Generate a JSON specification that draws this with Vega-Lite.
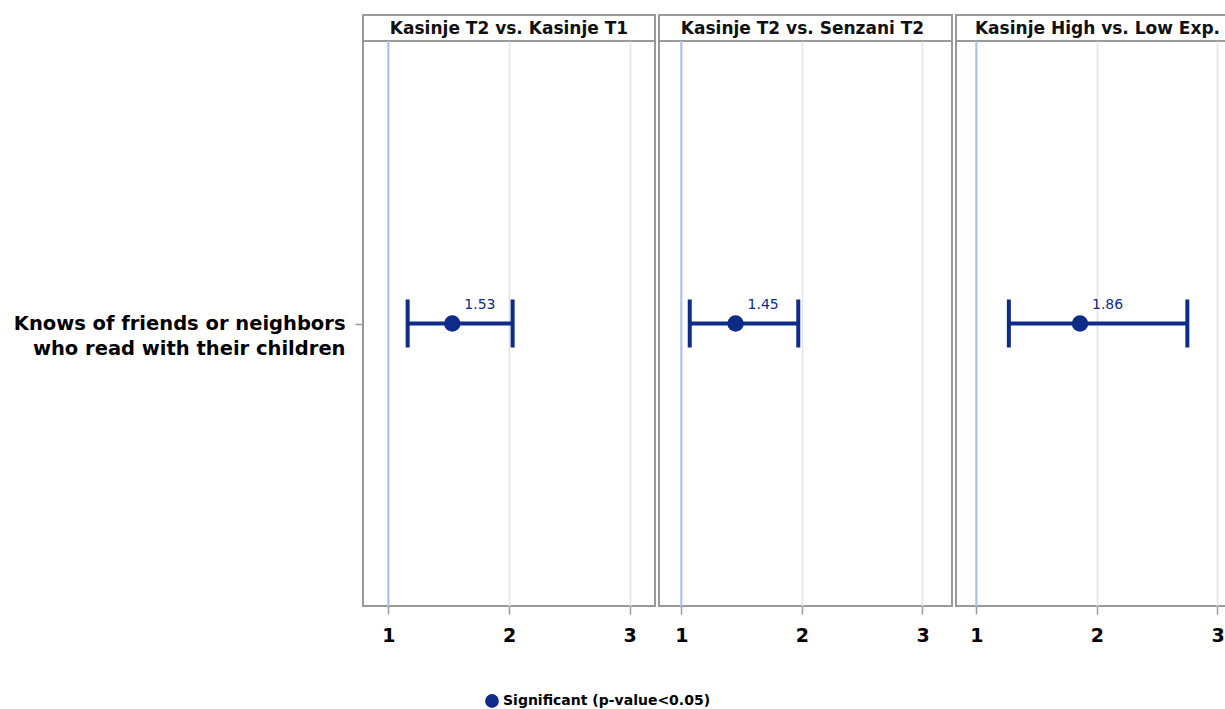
{
  "$schema": "https://vega.github.io/schema/vega-lite/v6.json",
  "padding": {"left": 0, "top": 13, "right": 0, "bottom": 0},
  "background": "white",
  "datasets": {
    "est": [
      {"comp": "Kasinje T2 vs. Kasinje T1", "item": "Knows of friends or neighbors|who read with their children", "or": 1.53, "lo": 1.16, "hi": 2.03, "sig": "Significant (p-value<0.05)"},
      {"comp": "Kasinje T2 vs. Senzani T2", "item": "Knows of friends or neighbors|who read with their children", "or": 1.45, "lo": 1.07, "hi": 1.97, "sig": "Significant (p-value<0.05)"},
      {"comp": "Kasinje High vs. Low Exp.", "item": "Knows of friends or neighbors|who read with their children", "or": 1.86, "lo": 1.27, "hi": 2.75, "sig": "Significant (p-value<0.05)"}
    ]
  },
  "spacing": 0,
  "hconcat": [
    {
      "spacing": 0,
      "bounds": "flush",
      "vconcat": [
        {
          "width": 292, "height": 26,
          "data": {"name": "est"},
          "transform": [{"filter": "datum.comp === 'Kasinje T2 vs. Kasinje T1'"}],
          "layer": [
            {"mark": {"type": "rect", "fill": null, "stroke": "#999999", "strokeWidth": 2},
             "encoding": {"x": {"value": 0}, "x2": {"value": "width"}, "y": {"value": 0}, "y2": {"value": "height"}}},
            {"mark": {"type": "text", "font": "DejaVu Sans", "fontSize": 17, "fontWeight": "bold", "color": "#111111", "dy": 1},
             "encoding": {"text": {"field": "comp"}}}
          ]
        },
        {
          "width": 292, "height": 565,
          "data": {"name": "est"},
          "transform": [{"filter": "datum.comp === 'Kasinje T2 vs. Kasinje T1'"}],
          "layer": [
            {
              "mark": {"type": "rule", "color": "#a9bff0", "strokeWidth": 2},
              "encoding": {
                "x": {"datum": 1, "type": "quantitative",
                  "scale": {"domain": [0.79, 3.21], "nice": false, "zero": false},
                  "axis": {"values": [1, 2, 3], "format": "d", "title": null, "domain": false, "tickColor": "#999999", "tickSize": 8, "tickWidth": 1.5, "labelFont": "DejaVu Sans", "labelFontSize": 19, "labelFontWeight": "bold", "labelColor": "#000000", "labelPadding": 12, "labelFlush": false, "grid": true, "gridColor": "#e3e3e3", "gridWidth": 1.5}}
              }
            },
            {
              "mark": {"type": "rule", "color": "#0d2b87", "strokeWidth": 4},
              "encoding": {
                "x": {"field": "lo", "type": "quantitative"},
                "x2": {"field": "hi"},
                "y": {"field": "item", "type": "nominal", "scale": {"type": "point"},
                  "axis": {"title": null, "domain": false, "tickColor": "#999999", "tickSize": 8, "tickWidth": 1.5, "labelFont": "DejaVu Sans", "labelFontSize": 19.5, "labelFontWeight": "bold", "labelColor": "#000000", "labelPadding": 10, "labelLimit": 0, "labelLineHeight": 25, "labelExpr": "split(datum.label, '|')", "minExtent": 362, "maxExtent": 362}}
              }
            },
            {
              "mark": {"type": "tick", "color": "#0d2b87", "opacity": 1, "thickness": 4, "size": 48},
              "encoding": {"x": {"field": "lo", "type": "quantitative"}, "y": {"field": "item", "type": "nominal"}}
            },
            {
              "mark": {"type": "tick", "color": "#0d2b87", "opacity": 1, "thickness": 4, "size": 48},
              "encoding": {"x": {"field": "hi", "type": "quantitative"}, "y": {"field": "item", "type": "nominal"}}
            },
            {
              "mark": {"type": "point", "filled": true, "opacity": 1, "size": 270, "shape": "circle"},
              "encoding": {
                "x": {"field": "or", "type": "quantitative"},
                "y": {"field": "item", "type": "nominal"},
                "color": {"field": "sig", "type": "nominal", "scale": {"range": ["#0d2b87"]},
                  "legend": {"title": null, "orient": "none", "legendX": 122, "legendY": 679, "labelFont": "DejaVu Sans", "labelFontSize": 14, "labelFontWeight": "bold", "labelColor": "#000000", "labelLimit": 0, "symbolSize": 190, "symbolType": "circle", "symbolStrokeWidth": 0, "symbolOpacity": 1}}
              }
            },
            {
              "mark": {"type": "text", "color": "#0d2b87", "font": "DejaVu Sans", "fontSize": 14, "align": "left", "dx": 12, "dy": -19},
              "encoding": {"x": {"field": "or", "type": "quantitative"}, "y": {"field": "item", "type": "nominal"}, "text": {"field": "or", "type": "quantitative", "format": ".2f"}}
            }
          ]
        }
      ]
    },
    {
      "spacing": 0,
      "bounds": "flush",
      "vconcat": [
        {
          "width": 293, "height": 26,
          "data": {"name": "est"},
          "transform": [{"filter": "datum.comp === 'Kasinje T2 vs. Senzani T2'"}],
          "layer": [
            {"mark": {"type": "rect", "fill": null, "stroke": "#999999", "strokeWidth": 2},
             "encoding": {"x": {"value": 0}, "x2": {"value": "width"}, "y": {"value": 0}, "y2": {"value": "height"}}},
            {"mark": {"type": "text", "font": "DejaVu Sans", "fontSize": 17, "fontWeight": "bold", "color": "#111111", "dy": 1, "dx": -3},
             "encoding": {"text": {"field": "comp"}}}
          ]
        },
        {
          "width": 293, "height": 565,
          "data": {"name": "est"},
          "transform": [{"filter": "datum.comp === 'Kasinje T2 vs. Senzani T2'"}],
          "layer": [
            {
              "mark": {"type": "rule", "color": "#a9bff0", "strokeWidth": 2},
              "encoding": {
                "x": {"datum": 1, "type": "quantitative",
                  "scale": {"domain": [0.8151, 3.2447], "nice": false, "zero": false},
                  "axis": {"values": [1, 2, 3], "format": "d", "title": null, "domain": false, "tickColor": "#999999", "tickSize": 8, "tickWidth": 1.5, "labelFont": "DejaVu Sans", "labelFontSize": 19, "labelFontWeight": "bold", "labelColor": "#000000", "labelPadding": 12, "labelFlush": false, "grid": true, "gridColor": "#e3e3e3", "gridWidth": 1.5}}
              }
            },
            {
              "mark": {"type": "rule", "color": "#0d2b87", "strokeWidth": 4},
              "encoding": {
                "x": {"field": "lo", "type": "quantitative"},
                "x2": {"field": "hi"},
                "y": {"field": "item", "type": "nominal", "scale": {"type": "point"}, "axis": null}
              }
            },
            {
              "mark": {"type": "tick", "color": "#0d2b87", "opacity": 1, "thickness": 4, "size": 48},
              "encoding": {"x": {"field": "lo", "type": "quantitative"}, "y": {"field": "item", "type": "nominal"}}
            },
            {
              "mark": {"type": "tick", "color": "#0d2b87", "opacity": 1, "thickness": 4, "size": 48},
              "encoding": {"x": {"field": "hi", "type": "quantitative"}, "y": {"field": "item", "type": "nominal"}}
            },
            {
              "mark": {"type": "point", "filled": true, "opacity": 1, "size": 270, "shape": "circle", "color": "#0d2b87"},
              "encoding": {"x": {"field": "or", "type": "quantitative"}, "y": {"field": "item", "type": "nominal"}}
            },
            {
              "mark": {"type": "text", "color": "#0d2b87", "font": "DejaVu Sans", "fontSize": 14, "align": "left", "dx": 12, "dy": -19},
              "encoding": {"x": {"field": "or", "type": "quantitative"}, "y": {"field": "item", "type": "nominal"}, "text": {"field": "or", "type": "quantitative", "format": ".2f"}}
            }
          ]
        }
      ]
    },
    {
      "spacing": 0,
      "bounds": "flush",
      "vconcat": [
        {
          "width": 277, "height": 26,
          "data": {"name": "est"},
          "transform": [{"filter": "datum.comp === 'Kasinje High vs. Low Exp.'"}],
          "layer": [
            {"mark": {"type": "rect", "fill": null, "stroke": "#999999", "strokeWidth": 2},
             "encoding": {"x": {"value": 0}, "x2": {"value": "width"}, "y": {"value": 0}, "y2": {"value": "height"}}},
            {"mark": {"type": "text", "font": "DejaVu Sans", "fontSize": 17, "fontWeight": "bold", "color": "#111111", "dy": 1, "dx": 3},
             "encoding": {"text": {"field": "comp"}}}
          ]
        },
        {
          "width": 277, "height": 565,
          "data": {"name": "est"},
          "transform": [{"filter": "datum.comp === 'Kasinje High vs. Low Exp.'"}],
          "layer": [
            {
              "mark": {"type": "rule", "color": "#a9bff0", "strokeWidth": 2},
              "encoding": {
                "x": {"datum": 1, "type": "quantitative",
                  "scale": {"domain": [0.8317, 3.1286], "nice": false, "zero": false},
                  "axis": {"values": [1, 2, 3], "format": "d", "title": null, "domain": false, "tickColor": "#999999", "tickSize": 8, "tickWidth": 1.5, "labelFont": "DejaVu Sans", "labelFontSize": 19, "labelFontWeight": "bold", "labelColor": "#000000", "labelPadding": 12, "labelFlush": false, "grid": true, "gridColor": "#e3e3e3", "gridWidth": 1.5}}
              }
            },
            {
              "mark": {"type": "rule", "color": "#0d2b87", "strokeWidth": 4},
              "encoding": {
                "x": {"field": "lo", "type": "quantitative"},
                "x2": {"field": "hi"},
                "y": {"field": "item", "type": "nominal", "scale": {"type": "point"}, "axis": null}
              }
            },
            {
              "mark": {"type": "tick", "color": "#0d2b87", "opacity": 1, "thickness": 4, "size": 48},
              "encoding": {"x": {"field": "lo", "type": "quantitative"}, "y": {"field": "item", "type": "nominal"}}
            },
            {
              "mark": {"type": "tick", "color": "#0d2b87", "opacity": 1, "thickness": 4, "size": 48},
              "encoding": {"x": {"field": "hi", "type": "quantitative"}, "y": {"field": "item", "type": "nominal"}}
            },
            {
              "mark": {"type": "point", "filled": true, "opacity": 1, "size": 270, "shape": "circle", "color": "#0d2b87"},
              "encoding": {"x": {"field": "or", "type": "quantitative"}, "y": {"field": "item", "type": "nominal"}}
            },
            {
              "mark": {"type": "text", "color": "#0d2b87", "font": "DejaVu Sans", "fontSize": 14, "align": "left", "dx": 12, "dy": -19},
              "encoding": {"x": {"field": "or", "type": "quantitative"}, "y": {"field": "item", "type": "nominal"}, "text": {"field": "or", "type": "quantitative", "format": ".2f"}}
            }
          ]
        }
      ]
    }
  ],
  "config": {
    "view": {"stroke": "#999999", "strokeWidth": 2},
    "font": "DejaVu Sans"
  }
}
